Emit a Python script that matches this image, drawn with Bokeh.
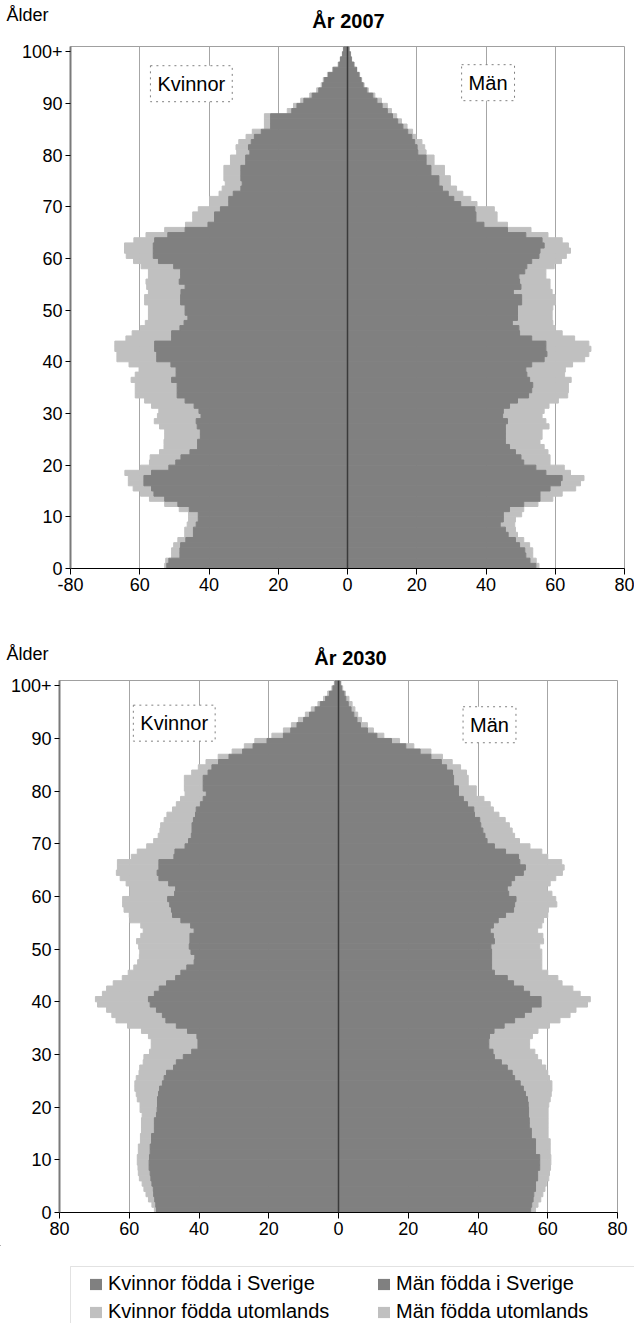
from bokeh.plotting import figure
from bokeh.models import (ColumnDataSource, Range1d, FixedTicker, Span, Label,
                          Legend, LegendItem, BoxAnnotation)
from bokeh.layouts import column
from bokeh.embed import file_html
from bokeh.resources import INLINE

# ---------------- data (thousands of persons, age 0 .. 100+) ----------------
ages = list(range(101))
y_ticks = [0, 10, 20, 30, 40, 50, 60, 70, 80, 90, 100]
y_tick_label_overrides = {100: "100+"}
x_ticks = [-80, -60, -40, -20, 0, 20, 40, 60, 80]
x_labels_2007 = ["-80", "60", "40", "20", "0", "20", "40", "60", "80"]
x_labels_2030 = ["80", "60", "40", "20", "0", "20", "40", "60", "80"]

kvinnor_sverige_2007 = [
    52.2, 51.6, 48.4, 48.4, 48.2, 46.7, 44.5, 44.5, 43.7, 43.1,
    43.1, 45.7, 49.0, 52.8, 55.9, 56.6, 58.8, 58.8, 56.6, 51.6,
    49.6, 48.1, 45.5, 43.3, 43.3, 42.5, 42.5, 43.4, 43.7, 42.3,
    42.9, 44.3, 46.9, 49.2, 49.2, 49.2, 50.8, 49.5, 49.5, 51.0,
    55.1, 55.1, 55.7, 55.7, 50.8, 50.8, 48.4, 47.2, 46.1, 46.9,
    46.9, 48.2, 48.2, 48.1, 46.9, 48.6, 48.2, 48.2, 50.2, 54.6,
    56.1, 56.1, 56.1, 55.7, 51.9, 46.9, 40.3, 38.4, 38.4, 36.7,
    34.3, 34.3, 33.0, 30.8, 30.4, 30.8, 30.8, 30.8, 29.4, 29.4,
    28.2, 28.6, 27.8, 26.9, 24.9, 22.2, 22.2, 22.2, 16.1, 14.6,
    12.6, 10.2, 8.3, 7.2, 6.7, 5.5, 4.1, 2.5, 2.0, 1.4, 1.1]
kvinnor_utomlands_2007 = [
    0.6, 0.9, 2.4, 2.4, 2.0, 2.3, 2.5, 2.5, 2.6, 2.8,
    2.8, 2.9, 3.8, 4.4, 3.9, 5.3, 4.5, 4.5, 7.7, 8.2,
    7.6, 8.9, 8.8, 9.7, 9.7, 10.3, 10.3, 10.9, 12.1, 12.6,
    11.6, 12.3, 11.7, 12.1, 12.1, 12.1, 11.7, 11.8, 10.7, 12.1,
    11.5, 11.5, 11.5, 11.5, 13.2, 11.4, 11.4, 11.2, 11.4, 10.6,
    10.6, 10.4, 10.4, 9.4, 11.1, 9.6, 9.3, 9.3, 9.4, 7.2,
    7.8, 8.3, 8.3, 6.0, 6.3, 5.9, 6.5, 6.3, 6.3, 6.4,
    5.5, 5.5, 4.1, 5.4, 4.9, 4.9, 4.9, 4.9, 4.4, 4.4,
    3.8, 3.6, 3.6, 2.4, 2.6, 1.8, 1.8, 1.8, 1.3, 1.0,
    0.9, 0.7, 0.6, 0.4, 0.3, 0.3, 0.2, 0.2, 0.1, 0.1, 0.1]
man_sverige_2007 = [
    54.4, 52.7, 51.5, 51.2, 49.7, 48.5, 46.4, 45.6, 44.1, 45.0,
    45.0, 46.8, 50.9, 55.6, 55.6, 58.5, 61.5, 62.0, 57.3, 54.4,
    50.9, 50.1, 48.5, 46.8, 45.6, 45.6, 45.6, 45.6, 46.2, 44.8,
    45.0, 46.8, 49.1, 52.3, 53.2, 53.5, 52.6, 51.8, 51.5, 53.2,
    56.8, 57.6, 57.3, 57.3, 53.2, 49.7, 49.5, 47.6, 49.1, 49.1,
    49.1, 50.3, 50.3, 47.9, 50.1, 49.7, 49.5, 51.2, 51.8, 53.2,
    55.3, 55.6, 56.8, 56.2, 51.5, 46.2, 39.4, 37.1, 37.1, 36.8,
    32.7, 30.7, 29.1, 27.4, 26.4, 26.4, 24.1, 24.1, 22.7, 22.7,
    20.3, 20.1, 19.4, 18.6, 17.4, 16.0, 14.5, 13.0, 11.5, 10.0,
    8.5, 7.3, 5.6, 4.5, 3.9, 3.3, 2.6, 1.8, 1.1, 0.8, 0.4]
man_utomlands_2007 = [
    0.9, 1.8, 2.0, 2.3, 2.9, 2.4, 2.7, 2.9, 4.2, 3.5,
    5.3, 4.1, 4.1, 3.7, 6.4, 7.4, 5.8, 6.3, 7.1, 8.2,
    7.6, 8.4, 9.4, 10.0, 10.0, 10.6, 10.6, 12.6, 11.1, 11.4,
    11.8, 11.4, 11.8, 11.3, 10.6, 10.3, 12.0, 10.9, 11.4, 11.8,
    11.7, 12.1, 13.0, 12.4, 12.4, 12.3, 10.5, 11.7, 10.0, 10.0,
    10.2, 9.7, 9.7, 11.2, 8.4, 8.8, 7.8, 6.1, 7.9, 8.6,
    7.9, 8.8, 7.0, 5.8, 6.4, 6.8, 6.8, 6.1, 6.1, 5.6,
    4.7, 4.9, 4.2, 4.1, 3.3, 3.3, 3.9, 3.9, 2.3, 2.3,
    2.4, 2.2, 2.1, 1.1, 1.4, 1.2, 1.1, 1.2, 1.2, 1.5,
    1.3, 0.6, 0.4, 0.3, 0.2, 0.2, 0.1, 0.1, 0.1, 0.1, 0.1]

kvinnor_sverige_2030 = [
    52.2, 52.4, 52.7, 53.0, 53.1, 53.5, 53.8, 54.0, 54.3, 54.3,
    54.2, 54.0, 54.0, 53.6, 53.6, 52.8, 52.8, 52.8, 52.2, 52.0,
    51.9, 51.9, 51.6, 51.3, 50.5, 50.0, 49.3, 47.3, 46.5, 44.5,
    42.1, 40.3, 40.3, 40.6, 43.3, 46.5, 49.5, 50.5, 52.2, 54.0,
    54.5, 52.8, 51.4, 49.3, 46.7, 45.2, 43.5, 41.4, 41.2, 42.3,
    42.8, 42.6, 42.6, 41.4, 42.4, 45.2, 47.6, 47.9, 48.4, 49.0,
    47.0, 46.7, 48.7, 51.5, 52.0, 51.5, 51.5, 47.2, 46.9, 44.0,
    43.0, 42.2, 42.0, 42.0, 41.6, 41.0, 40.8, 39.6, 38.8, 37.9,
    38.8, 38.8, 38.8, 37.4, 36.3, 34.4, 31.4, 27.5, 24.5, 20.5,
    15.8, 13.7, 11.9, 10.0, 8.3, 6.7, 5.2, 3.7, 2.6, 1.6, 1.0]
kvinnor_utomlands_2030 = [
    0.6, 1.1, 1.8, 2.2, 2.7, 2.8, 3.3, 3.4, 3.2, 3.4,
    3.5, 3.4, 3.4, 3.2, 3.2, 3.7, 3.7, 3.7, 4.1, 4.9,
    5.0, 5.8, 6.4, 7.1, 7.9, 8.0, 7.9, 9.7, 9.5, 11.3,
    12.1, 13.4, 13.4, 13.9, 13.2, 14.0, 14.3, 14.5, 14.3, 15.1,
    15.2, 14.9, 15.1, 15.3, 15.3, 15.1, 15.2, 16.2, 15.9, 14.7,
    14.5, 15.3, 14.1, 14.6, 14.3, 14.6, 12.4, 13.6, 13.5, 12.9,
    12.8, 13.1, 12.2, 11.1, 11.7, 11.9, 11.9, 12.2, 10.8, 11.0,
    10.0, 9.5, 9.2, 9.0, 8.4, 8.2, 6.8, 6.9, 6.5, 6.1,
    5.4, 5.4, 5.4, 4.7, 3.9, 3.6, 3.1, 3.0, 2.5, 3.5,
    3.3, 2.1, 1.6, 1.5, 1.2, 1.1, 0.7, 0.6, 0.5, 0.3, 0.2]
man_sverige_2030 = [
    55.1, 55.4, 55.8, 56.0, 56.5, 56.5, 57.1, 57.1, 57.7, 57.7,
    57.7, 56.5, 56.5, 56.5, 55.3, 55.3, 54.7, 54.7, 54.5, 54.5,
    54.4, 54.2, 53.6, 53.0, 52.1, 50.5, 49.8, 48.4, 46.7, 44.7,
    44.3, 43.1, 43.1, 43.3, 44.6, 47.5, 50.5, 53.3, 55.3, 58.1,
    58.1, 54.8, 53.0, 50.2, 48.4, 44.7, 43.9, 43.9, 43.9, 43.9,
    43.7, 44.7, 44.4, 43.5, 44.4, 45.8, 47.9, 50.2, 50.5, 50.9,
    48.8, 48.4, 49.5, 50.5, 53.0, 53.6, 52.0, 51.6, 47.9, 44.7,
    42.6, 42.0, 41.4, 40.8, 40.5, 39.0, 38.8, 37.0, 35.8, 34.4,
    34.4, 33.0, 33.0, 32.7, 31.0, 29.5, 26.5, 23.4, 19.3, 15.2,
    11.0, 8.3, 6.3, 5.3, 4.4, 3.6, 2.8, 2.1, 1.6, 0.9, 0.5]
man_utomlands_2030 = [
    1.4, 1.8, 2.2, 2.6, 2.7, 3.1, 3.2, 3.4, 3.1, 3.2,
    3.2, 4.2, 4.2, 4.2, 4.8, 4.8, 5.4, 5.4, 5.6, 5.6,
    5.9, 6.5, 7.4, 8.2, 9.1, 10.0, 10.2, 11.0, 11.5, 12.4,
    12.0, 11.7, 11.7, 12.3, 12.6, 13.0, 13.0, 13.1, 12.8, 13.3,
    14.1, 14.5, 14.2, 13.9, 14.5, 15.3, 14.4, 14.4, 14.4, 14.4,
    14.0, 14.1, 14.2, 13.6, 13.9, 13.0, 12.1, 10.0, 12.1, 11.4,
    12.4, 11.4, 11.2, 11.8, 11.2, 11.1, 12.0, 8.4, 10.4, 10.2,
    9.3, 8.5, 8.4, 8.2, 7.3, 7.0, 5.6, 6.5, 5.9, 5.1,
    5.1, 4.2, 4.2, 4.0, 4.0, 3.1, 3.3, 3.1, 2.3, 2.3,
    2.0, 1.7, 2.0, 1.3, 1.1, 1.1, 1.1, 0.9, 0.4, 0.3, 0.2]

for _name, _arr in [("ks07", kvinnor_sverige_2007), ("ku07", kvinnor_utomlands_2007),
                    ("ms07", man_sverige_2007), ("mu07", man_utomlands_2007),
                    ("ks30", kvinnor_sverige_2030), ("ku30", kvinnor_utomlands_2030),
                    ("ms30", man_sverige_2030), ("mu30", man_utomlands_2030)]:
    assert len(_arr) == 101, (_name, len(_arr))

# ---------------- styling ----------------
DARK = "#808080"
LIGHT = "#c0c0c0"
FONT = "Liberation Sans"
W = 634


def build_source(ws, wu, ms, mu):
    return ColumnDataSource(dict(
        y=[a + 0.5 for a in ages],
        wd_l=[-v for v in ws], wd_r=[0.0] * len(ws),
        wl_l=[-(a + b) for a, b in zip(ws, wu)], wl_r=[-v for v in ws],
        md_l=[0.0] * len(ms), md_r=list(ms),
        ml_l=list(ms), ml_r=[a + b for a, b in zip(ms, mu)],
    ))


def header(height, year_title, title_xy, alder_xy):
    h = figure(width=W, height=height, x_range=Range1d(0, W), y_range=Range1d(height, 0),
               output_backend="svg", toolbar_location=None, title=None,
               x_axis_type=None, y_axis_type=None,
               min_border_left=0, min_border_right=0, min_border_top=0, min_border_bottom=0)
    h.frame_align = False
    h.outline_line_color = None
    h.grid.visible = False
    h.add_layout(Label(x=title_xy[0], y=title_xy[1], text=year_title, text_font=FONT,
                       text_font_size="20px", text_font_style="bold", text_align="center",
                       text_baseline="middle", text_color="black"))
    h.add_layout(Label(x=alder_xy[0], y=alder_xy[1], text="Ålder", text_font=FONT,
                       text_font_size="18px", text_align="left", text_baseline="middle",
                       text_color="black"))
    return h


def pyramid(xlabels, src, height, bt, bb, bl, br, kv_xy, man_xy):
    p = figure(width=W, height=height, x_range=Range1d(-80, 80), y_range=Range1d(0, 101),
               output_backend="svg", toolbar_location=None, title=None,
               min_border_left=bl, min_border_right=br,
               min_border_top=bt, min_border_bottom=bb)
    p.frame_align = False
    p.outline_line_color = "#a0a0a0"
    p.outline_line_width = 1
    p.background_fill_color = "white"
    p.border_fill_color = "white"

    p.hbar(y="y", height=1, left="wl_l", right="wl_r", source=src,
           fill_color=LIGHT, line_color=LIGHT, line_width=1)
    p.hbar(y="y", height=1, left="ml_l", right="ml_r", source=src,
           fill_color=LIGHT, line_color=LIGHT, line_width=1)
    p.hbar(y="y", height=1, left="wd_l", right="wd_r", source=src,
           fill_color=DARK, line_color=DARK, line_width=1)
    p.hbar(y="y", height=1, left="md_l", right="md_r", source=src,
           fill_color=DARK, line_color=DARK, line_width=1)

    p.add_layout(Span(location=0, dimension="height", line_color="#3a3a3a", line_width=1.5))

    p.xgrid.ticker = FixedTicker(ticks=[-60, -40, -20, 20, 40, 60])
    p.xgrid.grid_line_color = "#a6a6a6"
    p.xgrid.grid_line_width = 1
    p.ygrid.visible = False

    xa = p.xaxis[0]
    xa.ticker = FixedTicker(ticks=x_ticks)
    xa.major_label_overrides = {t: l for t, l in zip(x_ticks, xlabels)}
    xa.axis_line_color = "black"
    xa.axis_line_width = 1.2
    xa.major_tick_line_color = "black"
    xa.major_tick_out = 6
    xa.major_tick_in = 0
    xa.minor_tick_line_color = None
    xa.major_label_standoff = 3
    xa.major_label_text_font = FONT
    xa.major_label_text_font_size = "18px"
    xa.major_label_text_color = "black"

    ya = p.yaxis[0]
    ya.ticker = FixedTicker(ticks=y_ticks)
    ya.major_label_overrides = y_tick_label_overrides
    ya.axis_line_color = "#7a7a7a"
    ya.axis_line_width = 2
    ya.major_tick_line_color = "black"
    ya.major_tick_out = 5
    ya.major_tick_in = 0
    ya.minor_tick_line_color = None
    ya.major_label_standoff = 3
    ya.major_label_text_font = FONT
    ya.major_label_text_font_size = "18px"
    ya.major_label_text_color = "black"

    for txt, (lx, ly) in [("Kvinnor", kv_xy), ("Män", man_xy)]:
        p.add_layout(Label(x=lx, y=ly, text=txt, text_font=FONT, text_font_size="20px",
                           text_align="center", text_baseline="middle", text_color="black",
                           border_line_color="#808080", border_line_dash="dotted",
                           border_line_width=1, background_fill_color="white",
                           padding=7))
    return p


src_2007 = build_source(kvinnor_sverige_2007, kvinnor_utomlands_2007,
                        man_sverige_2007, man_utomlands_2007)
src_2030 = build_source(kvinnor_sverige_2030, kvinnor_utomlands_2030,
                        man_sverige_2030, man_utomlands_2030)

h1 = header(36, "År 2007", title_xy=(348, 20), alder_xy=(6, 14))
p1 = pyramid(x_labels_2007, src_2007, height=562, bt=10, bb=30, bl=70, br=10,
             kv_xy=(-45.1, 93.8), man_xy=(40.6, 94.0))
h2 = header(72, "År 2030", title_xy=(350, 59), alder_xy=(6, 55))
p2 = pyramid(x_labels_2030, src_2030, height=575, bt=10, bb=33, bl=59, br=17,
             kv_xy=(-47.1, 92.9), man_xy=(43.3, 92.6))

# ---------------- legend strip ----------------
# strip coordinates: x = OFF + pixels from left, y = -(pixels from top) - OFF
LH = 78
OFF = 1000
p3 = figure(width=W, height=LH, x_range=Range1d(OFF, OFF + W), y_range=Range1d(-LH - OFF, -OFF),
            output_backend="svg", toolbar_location=None, title=None,
            x_axis_type=None, y_axis_type=None,
            min_border_left=0, min_border_right=0, min_border_top=0, min_border_bottom=0)
p3.frame_align = False
p3.outline_line_color = None
p3.grid.visible = False
p3.add_layout(BoxAnnotation(left=OFF + 70, right=OFF + W + 20,
                            bottom=-LH - OFF - 20, top=-21 - OFF,
                            fill_color=None, line_color="#a0a0a0", line_width=1))
# legend swatches reuse the 2030 series (their bars lie far outside this strip's ranges)
r_ks = p3.hbar(y="y", left="wd_l", right="wd_r", height=1, source=src_2030,
               fill_color=DARK, line_color=None)
r_ku = p3.hbar(y="y", left="wl_l", right="wl_r", height=1, source=src_2030,
               fill_color=LIGHT, line_color=None)
r_ms = p3.hbar(y="y", left="md_l", right="md_r", height=1, source=src_2030,
               fill_color=DARK, line_color=None)
r_mu = p3.hbar(y="y", left="ml_l", right="ml_r", height=1, source=src_2030,
               fill_color=LIGHT, line_color=None)

legend_style = dict(orientation="vertical", padding=0, margin=0, spacing=5,
                    glyph_width=15, glyph_height=14, label_standoff=5, label_height=20,
                    label_text_font=FONT, label_text_font_size="20px",
                    label_text_color="black", border_line_color=None,
                    background_fill_alpha=0)
leg_k = Legend(items=[LegendItem(label="Kvinnor födda i Sverige", renderers=[r_ks]),
                      LegendItem(label="Kvinnor födda utomlands", renderers=[r_ku])],
               location=(88, 0), **legend_style)
leg_m = Legend(items=[LegendItem(label="Män födda i Sverige", renderers=[r_ms]),
                      LegendItem(label="Män födda utomlands", renderers=[r_mu])],
               location=(376, 0), **legend_style)
p3.add_layout(leg_k)
p3.add_layout(leg_m)

layout = column(h1, p1, h2, p2, p3, spacing=0)
open("out.html", "w").write(file_html(layout, INLINE))
